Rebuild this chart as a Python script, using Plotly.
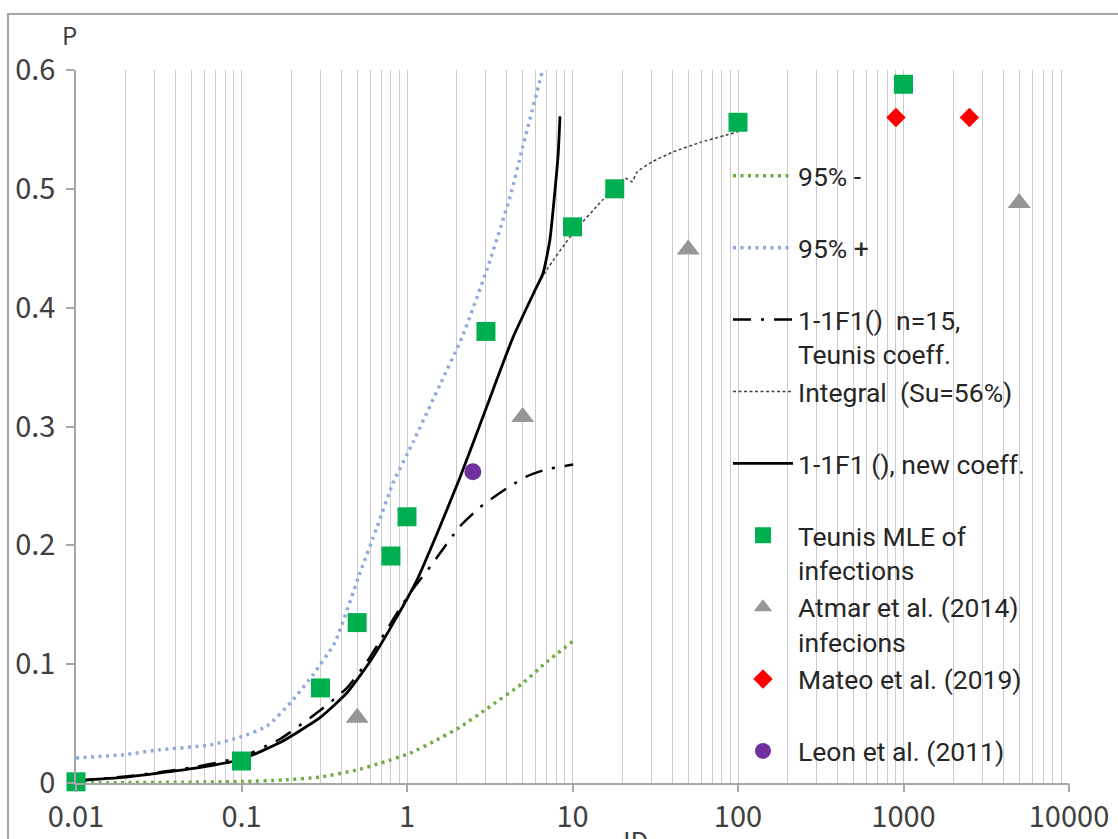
import plotly.graph_objects as go

# ---- data -------------------------------------------------------------
x_ticks = [0.01, 0.1, 1, 10, 100, 1000, 10000]
x_labels = ["0.01", "0.1", "1", "10", "100", "1000", "10000"]
y_ticks = [0, 0.1, 0.2, 0.3, 0.4, 0.5, 0.6]

# 95% lower confidence bound
ci_lo_x = [0.01, 0.02, 0.05, 0.1, 0.178, 0.3, 0.5, 0.7, 1.04, 1.5, 2.09, 3.0, 5.0, 7.0, 10.0]
ci_lo_y = [0.0, 0.0003, 0.0007, 0.0012, 0.0025, 0.005, 0.011, 0.017, 0.025, 0.036, 0.047, 0.062, 0.084, 0.102, 0.119]

# 95% upper confidence bound
ci_hi_x = [0.01, 0.02, 0.032, 0.065, 0.1, 0.143, 0.205, 0.27, 0.366, 0.52, 0.658, 0.82,
           1.09, 1.58, 2.15, 3.04, 4.19, 5.0, 6.6]
ci_hi_y = [0.021, 0.024, 0.028, 0.032, 0.039, 0.048, 0.070, 0.091, 0.118, 0.177, 0.215, 0.252,
           0.287, 0.335, 0.375, 0.432, 0.493, 0.535, 0.600]

# 1-1F1(), n=15, Teunis coefficients
teunis_fit_x = [0.01, 0.02, 0.05, 0.1, 0.171, 0.298, 0.434, 0.573, 0.87, 1.07, 1.38, 2.09,
                2.76, 4.0, 5.3, 7.0, 10.1]
teunis_fit_y = [0.002, 0.0055, 0.013, 0.022, 0.037, 0.061, 0.080, 0.102, 0.143, 0.162, 0.182,
                0.216, 0.232, 0.248, 0.258, 0.264, 0.268]

# Integral (Su = 56%)
integral_x = [6.0, 7.0, 10.1, 15.3, 20.8, 22.9, 24.5, 30.6, 40.5, 59.0, 100.0]
integral_y = [0.416, 0.432, 0.463, 0.491, 0.509, 0.506, 0.514, 0.523, 0.531, 0.539, 0.548]

# 1-1F1(), new coefficients
new_fit_x = [0.01, 0.02, 0.05, 0.1, 0.171, 0.298, 0.434, 0.597, 0.87, 1.15, 1.52, 2.09, 3.0,
             4.37, 6.0, 6.64, 7.3, 7.84, 8.2, 8.4]
new_fit_y = [0.002, 0.005, 0.012, 0.020, 0.034, 0.055, 0.076, 0.102, 0.140, 0.171, 0.210,
             0.257, 0.315, 0.375, 0.416, 0.429, 0.457, 0.499, 0.530, 0.561]

# Observations
teunis_mle_x = [0.01, 0.1, 0.3, 0.5, 0.8, 1, 3, 10, 18, 100, 1000]
teunis_mle_y = [0.001, 0.0185, 0.080, 0.135, 0.191, 0.224, 0.380, 0.468, 0.500, 0.556, 0.588]

atmar_x = [0.5, 5, 50, 5000]
atmar_y = [0.055, 0.308, 0.449, 0.488]

mateo_x = [900, 2500]
mateo_y = [0.560, 0.560]

leon_x = [2.5]
leon_y = [0.262]

# ---- styling ----------------------------------------------------------
FONT = "Noto Sans CJK SC, Noto Sans, sans-serif"
LEGEND_FONT = "Roboto, Noto Sans, sans-serif"
TEXT = "#404040"
AXIS = "#a6a6a6"
GRID = "#cccccc"

# vertical grid at every digit 1..9 of each decade on the log axis
grid_vals = [m * 10.0 ** e for e in range(-2, 4) for m in range(1, 10)] + [10000]

fig = go.Figure()

def line_trace(x, y, name, color, width, dash):
    return go.Scatter(x=x, y=y, mode="lines", name=name, xaxis="x",
                      line=dict(color=color, width=width, dash=dash, shape="spline", smoothing=0.5))

fig.add_trace(line_trace(ci_lo_x, ci_lo_y, "95% -<br> ", "#70ad47", 3.5, "3px,4.5px"))
fig.add_trace(line_trace(ci_hi_x, ci_hi_y, "95% +<br> ", "#8faadc", 3.5, "3px,4.5px"))
fig.add_trace(line_trace(teunis_fit_x, teunis_fit_y, "1-1F1() \u00a0n=15,<br>Teunis coeff.",
                         "#000000", 2.5, "18px,10px,3px,10px"))
fig.add_trace(line_trace(integral_x, integral_y, "Integral \u00a0(Su=56%)<br> ",
                         "#404040", 1.5, "3px,2.5px"))
fig.add_trace(line_trace(new_fit_x, new_fit_y, "1-1F1 (), new coeff.<br> ", "#000000", 2.8, "solid"))

def marker_trace(x, y, name, color, symbol, size):
    # markers sit on the labelled overlay axis (same log scale as the grid axis)
    return go.Scatter(x=x, y=y, mode="markers", name=name, cliponaxis=False, xaxis="x2",
                      marker=dict(color=color, symbol=symbol, size=size,
                                  line=dict(width=0)))

fig.add_trace(marker_trace(teunis_mle_x, teunis_mle_y, "Teunis MLE of<br>infections",
                           "#00b050", "square", 19))
fig.add_trace(marker_trace(atmar_x, atmar_y, "Atmar et al. (2014)<br>infecions",
                           "#969696", "triangle-up", 20))
fig.add_trace(marker_trace(mateo_x, mateo_y, "Mateo et al. (2019)<br> ",
                           "#ff0000", "diamond", 15))
fig.add_trace(marker_trace(leon_x, leon_y, "Leon et al. (2011)<br> ",
                           "#7030a0", "circle", 17))

W, H = 1118, 839
L, R, T, B = 76, 49, 70, 56
pw, ph = W - L - R, H - T - B

def px_x(p):
    return (p - L) / pw

def px_y(p):
    return (H - B - p) / ph

fig.update_layout(
    width=W, height=H, autosize=False,
    margin=dict(l=L, r=R, t=T, b=B),
    paper_bgcolor="white", plot_bgcolor="white",
    font=dict(family=FONT, color=TEXT, size=28),
    showlegend=True,
    legend=dict(
        x=px_x(728), y=px_y(152), xanchor="left", yanchor="top",
        bgcolor="rgba(0,0,0,0)", borderwidth=0,
        font=dict(family=LEGEND_FONT, size=26.5, color="#262626"),
        valign="top", itemwidth=60, tracegroupgap=0,
    ),
    # grid axis: vertical lines at every digit, no labels or tick marks
    xaxis=dict(
        type="log", range=[-2, 4], automargin=False,
        tickmode="array", tickvals=grid_vals, showticklabels=False, ticks="",
        showgrid=True, gridcolor=GRID, gridwidth=1.3,
        showline=True, linecolor=AXIS, linewidth=1.5, zeroline=False,
    ),
    # labelled axis: decade ticks and labels
    xaxis2=dict(
        type="log", range=[-2, 4], automargin=False,
        overlaying="x", anchor="y", side="bottom",
        tickmode="array", tickvals=x_ticks, ticktext=x_labels,
        showgrid=False, zeroline=False, showline=False,
        ticks="outside", ticklen=8, tickwidth=1.5, tickcolor=AXIS,
        ticklabelstandoff=0,
        tickfont=dict(family=FONT, size=29, color=TEXT),
    ),
    yaxis=dict(
        range=[0, 0.6], tickvals=y_ticks, automargin=False,
        showgrid=False, zeroline=False,
        ticks="outside", ticklen=8, tickwidth=1.5, tickcolor=AXIS,
        showline=True, linecolor=AXIS, linewidth=1.5,
        ticklabelstandoff=5,
        tickfont=dict(family=FONT, size=29, color=TEXT),
    ),
    shapes=[dict(type="rect", xref="paper", yref="paper", layer="below",
                 x0=px_x(8), x1=px_x(1135), y0=px_y(860), y1=px_y(14),
                 line=dict(color=AXIS, width=2), fillcolor="rgba(0,0,0,0)")],
    annotations=[
        dict(text="P", xref="paper", yref="paper", x=px_x(69), y=px_y(35),
             xanchor="center", yanchor="middle",
             showarrow=False, font=dict(family=FONT, size=24, color=TEXT)),
        dict(text="ID", xref="paper", yref="paper", x=px_x(636), y=px_y(839),
             xanchor="center", yanchor="middle",
             showarrow=False, font=dict(family=FONT, size=26, color=TEXT)),
    ],
)

fig.write_html("out.html")
